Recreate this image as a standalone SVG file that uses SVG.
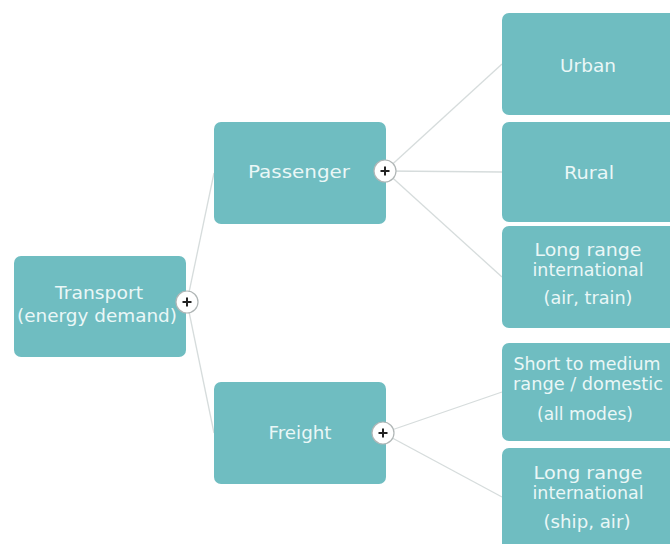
<svg xmlns="http://www.w3.org/2000/svg" width="670" height="544" viewBox="0 0 670 544">
  <style>
    .box { fill: #6fbdc1; }
    .lbl { font-family: "DejaVu Sans", Verdana, sans-serif; font-size: 17px; fill: #eaf7f7; text-anchor: middle; }
    .conn { stroke: #d6dcdc; stroke-width: 1.3; fill: none; }
    .btn circle { fill: #ffffff; stroke: #b0b6b6; stroke-width: 1.2; }
    .btn path { stroke: #222; stroke-width: 2; }
  </style>
  <defs>
    <g id="plus" class="btn">
      <circle r="11"/>
      <path d="M-4.5 0H4.5M0 -4.5V4.5"/>
    </g>
  </defs>
  <rect width="670" height="544" fill="#ffffff"/>

  <g id="connectors">
    <line class="conn" x1="187" y1="302" x2="214" y2="173"/>
    <line class="conn" x1="187" y1="302" x2="214" y2="433"/>
    <line class="conn" x1="385" y1="171" x2="502" y2="64"/>
    <line class="conn" x1="385" y1="171" x2="502" y2="172"/>
    <line class="conn" x1="385" y1="171" x2="502" y2="277"/>
    <line class="conn" x1="383" y1="433" x2="502" y2="392"/>
    <line class="conn" x1="383" y1="433" x2="502" y2="497"/>
  </g>

  <g id="transport">
    <rect class="box" x="14" y="256" width="172" height="101" rx="7"/>
    <text class="lbl" x="99" y="299" textLength="88" lengthAdjust="spacingAndGlyphs">Transport</text>
    <text class="lbl" x="97" y="322" textLength="160" lengthAdjust="spacingAndGlyphs">(energy demand)</text>
    <use href="#plus" x="187" y="302"/>
  </g>

  <g id="passenger">
    <rect class="box" x="214" y="122" width="172" height="102" rx="7"/>
    <text class="lbl" x="299" y="178" textLength="102" lengthAdjust="spacingAndGlyphs">Passenger</text>
    <use href="#plus" x="385" y="171"/>
  </g>

  <g id="freight">
    <rect class="box" x="214" y="382" width="172" height="102" rx="7"/>
    <text class="lbl" x="300" y="439" textLength="63" lengthAdjust="spacingAndGlyphs">Freight</text>
    <use href="#plus" x="383" y="433"/>
  </g>

  <g id="urban">
    <rect class="box" x="502" y="13" width="174" height="102" rx="7"/>
    <text class="lbl" x="588" y="72" textLength="56" lengthAdjust="spacingAndGlyphs">Urban</text>
  </g>

  <g id="rural">
    <rect class="box" x="502" y="122" width="174" height="100" rx="7"/>
    <text class="lbl" x="589" y="179" textLength="50" lengthAdjust="spacingAndGlyphs">Rural</text>
  </g>

  <g id="passenger-long-range">
    <rect class="box" x="502" y="226" width="174" height="102" rx="7"/>
    <text class="lbl" x="588" y="256" textLength="107" lengthAdjust="spacingAndGlyphs">Long range</text>
    <text class="lbl" x="588" y="276" textLength="111" lengthAdjust="spacingAndGlyphs">international</text>
    <text class="lbl" x="588" y="304" textLength="89" lengthAdjust="spacingAndGlyphs">(air, train)</text>
  </g>

  <g id="freight-short-medium">
    <rect class="box" x="502" y="343" width="174" height="98" rx="7"/>
    <text class="lbl" x="587" y="370" textLength="147" lengthAdjust="spacingAndGlyphs">Short to medium</text>
    <text class="lbl" x="588" y="390" textLength="150" lengthAdjust="spacingAndGlyphs">range / domestic</text>
    <text class="lbl" x="585" y="420" textLength="96" lengthAdjust="spacingAndGlyphs">(all modes)</text>
  </g>

  <g id="freight-long-range">
    <rect class="box" x="502" y="448" width="174" height="102" rx="7"/>
    <text class="lbl" x="588" y="479" textLength="109" lengthAdjust="spacingAndGlyphs">Long range</text>
    <text class="lbl" x="588" y="499" textLength="111" lengthAdjust="spacingAndGlyphs">international</text>
    <text class="lbl" x="587" y="528" textLength="87" lengthAdjust="spacingAndGlyphs">(ship, air)</text>
  </g>
</svg>
